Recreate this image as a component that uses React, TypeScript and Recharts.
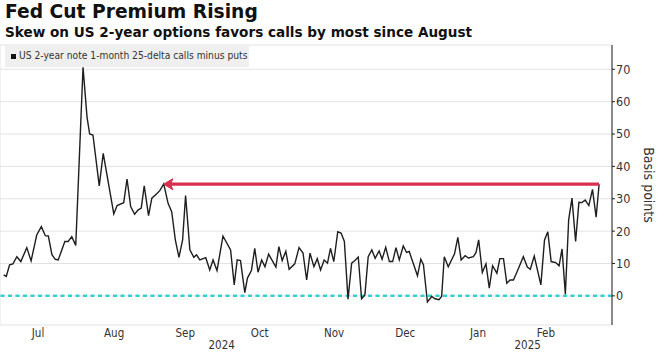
import React from "react";
import {
  LineChart,
  Line,
  XAxis,
  YAxis,
  CartesianGrid,
  ReferenceLine,
  ReferenceDot,
} from "recharts";

// trading-session index since Jul 1 2024
const sessions = [
  1.1, 1.9, 2.9, 3.9, 5.1, 6.3, 8.1, 9.4, 11.1, 12.5, 13.7, 14.6, 15.7, 16.7,
  17.6, 19.6, 20.6, 21.7, 22.9, 25.1, 26.3, 27.1, 28.1, 30.0, 31.2, 34.4, 35.4,
  37.4, 38.4, 39.5, 40.7, 41.7, 42.7, 43.6, 44.9, 45.9, 47.3, 48.3, 49.5, 50.8,
  51.9, 53.0, 54.1, 55.2, 56.1, 57.4, 58.6, 59.4, 60.4, 62.2, 63.4, 64.4, 65.6,
  67.4, 69.7, 70.8, 71.7, 72.7, 74.0, 74.8, 76.0, 77.0, 78.0, 79.1, 80.1, 81.2,
  83.4, 84.3, 85.3, 86.4, 87.4, 89.1, 90.4, 91.6, 92.7, 93.7, 94.9, 95.9, 96.9,
  98.0, 99.0, 99.9, 100.9, 102.1, 103.1, 104.1, 105.2, 106.3, 107.3, 108.3,
  109.3, 110.3, 111.3, 112.4, 113.4, 114.6, 115.5, 116.6, 117.7, 118.7, 119.7,
  120.7, 121.9, 122.9, 123.7, 126.2, 127.2, 128.0, 129.2, 130.5, 131.5, 132.7,
  133.5, 134.3, 135.5, 137.4, 138.4, 139.4, 140.6, 141.6, 143.1, 143.9, 144.7,
  145.8, 146.9, 147.9, 148.9, 150.2, 151.1, 152.2, 153.2, 154.2, 155.2, 156.4,
  158.2, 159.4, 160.3, 161.5, 163.5, 164.6, 165.6, 166.6, 168.0, 169.0, 169.9,
  170.9, 171.9, 172.9, 174.0, 175.0, 175.9, 176.9, 178.0, 179.1, 180.2, 181.1,
];

// skew, basis points
const skew = [
  6.5, 6.0, 9.6, 9.9, 12.1, 10.6, 14.9, 10.8, 18.8, 21.4, 18.6, 18.5, 12.7, 11.3,
  11.1, 16.8, 16.8, 18.3, 15.6, 70.6, 55.3, 50.0, 49.7, 34.0, 44.0, 25.3, 27.9,
  28.8, 36.1, 27.6, 25.2, 26.5, 27.1, 34.0, 24.8, 30.2, 31.5, 32.5, 34.6, 28.6,
  26.0, 17.3, 11.9, 17.3, 31.0, 14.2, 11.9, 12.7, 11.1, 11.8, 8.0, 11.1, 7.8,
  18.5, 14.2, 3.4, 11.1, 10.9, 1.0, 5.5, 7.8, 14.7, 7.3, 11.1, 9.0, 12.9,
  8.9, 15.2, 10.9, 13.8, 8.2, 9.9, 14.9, 13.2, 4.9, 13.2, 9.0, 11.5, 8.0,
  11.1, 10.1, 14.7, 10.6, 19.8, 19.4, 16.8, -1.0, 10.1, 10.9, 12.0,
  -0.9, 0.3, 12.1, 14.2, 11.6, 13.9, 11.3, 15.0, 10.6, 10.6, 14.9,
  11.1, 15.4, 13.4, 13.7, 6.2, 11.3, 9.6, -1.9, -0.2, -0.9, -1.2,
  -0.2, 12.1, 9.0, 13.0, 18.1, 11.1, 12.4, 11.7, 12.1, 13.4, 17.3,
  7.2, 9.9, 2.4, 9.3, 7.0, 11.5, 11.5, 3.9, 4.9, 4.9, 7.7,
  12.1, 8.9, 8.2, 12.3, 3.4, 17.3, 19.8, 10.6, 10.3, 9.3, 14.5,
  0.5, 23.5, 30.2, 16.8, 28.9, 28.8, 29.6, 27.9, 32.9, 24.3, 34.5,
];

const monthStarts = [0, 23, 46, 66, 91, 111, 134, 155, 175];
const monthLabels = ["Jul", "Aug", "Sep", "Oct", "Nov", "Dec", "Jan", "Feb"];
const yearStarts = [0, 134, 185];
const yearLabels = ["2024", "2025"];
const yTicks = [0, 10, 20, 30, 40, 50, 60, 70];
const xMax = 185;
const arrowFrom = 49.5; // September high, same level as latest reading

const data = sessions.map((s, i) => ({ s, v: skew[i] }));
const monthMids = monthLabels.map((_, i) => (monthStarts[i] + monthStarts[i + 1]) / 2);
const yearMids = yearLabels.map((_, i) => (yearStarts[i] + yearStarts[i + 1]) / 2);
const last = data[data.length - 1];

const axisFont = "'DejaVu Sans Condensed', 'DejaVu Sans', sans-serif";
const red = "#d92e4f";

const ArrowHead = (props: any) => {
  const { cx, cy } = props;
  return (
    <path
      d={`M${cx},${cy} L${cx + 9},${cy - 5.5} L${cx + 7},${cy} L${cx + 9},${cy + 5.5} Z`}
      fill={red}
      stroke={red}
      strokeWidth={1}
    />
  );
};

export default function App() {
  return (
    <div
      style={{
        position: "absolute",
        left: 0,
        top: 0,
        width: 666,
        height: 354,
        background: "#fff",
        overflow: "hidden",
      }}
    >
      <div
        style={{
          position: "absolute",
          left: 5,
          top: 1,
          fontFamily: "'DejaVu Sans', sans-serif",
          fontWeight: "bold",
          fontSize: 18.7,
          color: "#111",
          whiteSpace: "nowrap",
        }}
      >
        Fed Cut Premium Rising
      </div>
      <div
        style={{
          position: "absolute",
          left: 5,
          top: 24,
          fontFamily: "'DejaVu Sans', sans-serif",
          fontWeight: "bold",
          fontSize: 13.6,
          color: "#111",
          whiteSpace: "nowrap",
        }}
      >
        Skew on US 2-year options favors calls by most since August
      </div>

      <LineChart
        width={666}
        height={354}
        data={data}
        margin={{ top: 45, right: 0, bottom: 0, left: 0 }}
      >
        <CartesianGrid xAxisId="grid" stroke="#e3e3e3" strokeWidth={1} />
        <XAxis
          xAxisId="grid"
          dataKey="s"
          type="number"
          domain={[0, xMax]}
          allowDataOverflow
          ticks={monthStarts.slice(1)}
          interval={0}
          tick={false}
          tickLine={false}
          axisLine={false}
          height={0}
        />
        <XAxis
          xAxisId="month"
          dataKey="s"
          type="number"
          domain={[0, xMax]}
          allowDataOverflow
          ticks={monthMids}
          interval={0}
          tickFormatter={(_v: number, i: number) => monthLabels[i]}
          tick={{ fill: "#333", fontSize: 11.5, fontFamily: axisFont }}
          tickLine={false}
          tickSize={0}
          tickMargin={4}
          axisLine={false}
          height={15}
        />
        <XAxis
          xAxisId="year"
          dataKey="s"
          type="number"
          domain={[0, xMax]}
          allowDataOverflow
          ticks={yearMids}
          interval={0}
          tickFormatter={(_v: number, i: number) => yearLabels[i]}
          tick={{ fill: "#333", fontSize: 11.5, fontFamily: axisFont }}
          tickLine={false}
          tickSize={0}
          tickMargin={1}
          axisLine={false}
          height={14}
        />
        <YAxis
          orientation="right"
          type="number"
          domain={[-9, 77.5]}
          allowDataOverflow
          ticks={yTicks}
          interval={0}
          width={54}
          tickSize={3}
          tickMargin={1}
          tick={{ fill: "#333", fontSize: 12.5, fontFamily: axisFont }}
          tickLine={{ stroke: "#222" }}
          axisLine={{ stroke: "#222" }}
          label={{
            value: "Basis points",
            angle: 90,
            position: "center",
            dx: 10,
            fill: "#333",
            fontSize: 14,
            fontFamily: axisFont,
          }}
        />
        <ReferenceLine
          xAxisId="grid"
          y={0}
          stroke="#35cfd3"
          strokeWidth={2.5}
          strokeDasharray="4 3.5"
        />
        <Line
          xAxisId="grid"
          dataKey="v"
          type="linear"
          stroke="#1e1e1e"
          strokeWidth={1.4}
          dot={false}
          activeDot={false}
          isAnimationActive={false}
        />
        <ReferenceLine
          xAxisId="grid"
          segment={[
            { x: arrowFrom + 2, y: last.v },
            { x: last.s, y: last.v },
          ]}
          stroke={red}
          strokeWidth={3.2}
        />
        <ReferenceDot
          xAxisId="grid"
          x={arrowFrom}
          y={last.v}
          r={5}
          shape={ArrowHead}
        />
      </LineChart>

      <div
        style={{
          position: "absolute",
          left: 5,
          top: 45,
          width: 244,
          height: 22,
          background: "#efefef",
          fontFamily: axisFont,
          fontSize: 10.2,
          color: "#333",
          whiteSpace: "nowrap",
        }}
      >
        <div
          style={{
            position: "absolute",
            left: 6,
            top: 9,
            width: 5,
            height: 5,
            background: "#111",
          }}
        />
        <div style={{ position: "absolute", left: 14, top: 4.5 }}>
          US 2-year note 1-month 25-delta calls minus puts
        </div>
      </div>
    </div>
  );
}
